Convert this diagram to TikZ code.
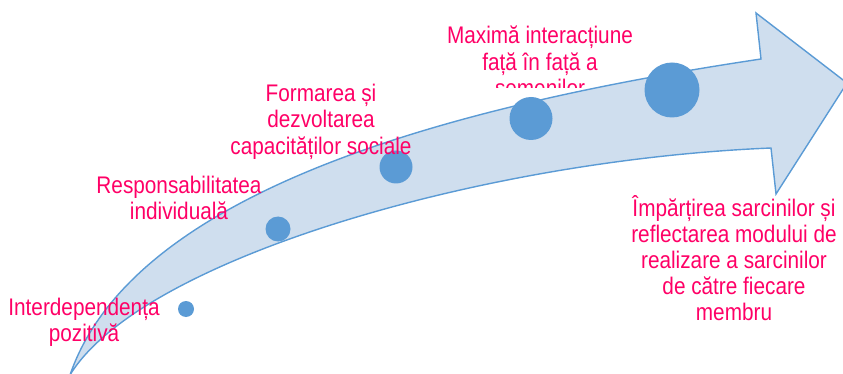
\documentclass[tikz,border=0pt]{standalone}
\usepackage{fontspec}
\setmainfont{Liberation Sans}[FakeStretch=0.865]
\definecolor{arrowfill}{RGB}{207,222,238}
\definecolor{arrowline}{RGB}{91,155,213}
\definecolor{dotblue}{RGB}{91,155,213}
\definecolor{labelpink}{RGB}{255,0,102}
\begin{document}
\begin{tikzpicture}[x=1pt,y=-1pt,
  bigarrow/.style={fill=arrowfill,draw=arrowline,line width=1.4pt,line join=miter},
  dot/.style={circle,fill=dotblue,draw=none,inner sep=0pt},
  lbl/.style={text=labelpink,inner sep=0pt,anchor=base,font=\fontsize{24}{26.2}\selectfont}]
\useasboundingbox (0,0) rectangle (843,374);
\clip (0,0) rectangle (843,374);
% arrow body
\coordinate (tail) at (70,375);
\coordinate (ushoulder) at (761,59);
\coordinate (ubarb) at (756,13);
\coordinate (tip) at (847,83);
\coordinate (lbarb) at (776,194);
\coordinate (lshoulder) at (771,148);
\draw[bigarrow] (tail) .. controls (130,200) and (420,110) .. (ushoulder)
  -- (ubarb) -- (tip) -- (lbarb) -- (lshoulder)
  .. controls (480,160) and (140,260) .. (tail) -- cycle;
% dots
\node[dot,minimum size=16pt] (c1) at (186,309) {};
\node[dot,minimum size=25pt] (c2) at (278,229) {};
\node[dot,minimum size=33pt] (c3) at (396,167) {};
\node[dot,minimum size=43pt] (c4) at (531,118.5) {};
\node[dot,minimum size=55pt] (c5) at (672,90) {};
% labels
\node[lbl] (t1) at (84,315) {\begin{tabular}[t]{@{}c@{}}Interdependența\\ pozitivă\end{tabular}};
\node[lbl] (t2) at (179,193.3) {\begin{tabular}[t]{@{}c@{}}Responsabilitatea\\ individuală\end{tabular}};
\node[lbl] (t3) at (321,101.7) {\begin{tabular}[t]{@{}c@{}}Formarea și\\ dezvoltarea\\ capacităților sociale\end{tabular}};
\begin{scope}
\clip (0,0) rectangle (843,87.5);
\node[lbl] (t4) at (540,44) {\begin{tabular}[t]{@{}c@{}}Maximă interacțiune\\ față în față a\\ semenilor\end{tabular}};
\end{scope}
\node[lbl] (t5) at (734,216) {\begin{tabular}[t]{@{}c@{}}Împărțirea sarcinilor și\\ reflectarea modului de\\ realizare a sarcinilor\\ de către fiecare\\ membru\end{tabular}};
\end{tikzpicture}
\end{document}
